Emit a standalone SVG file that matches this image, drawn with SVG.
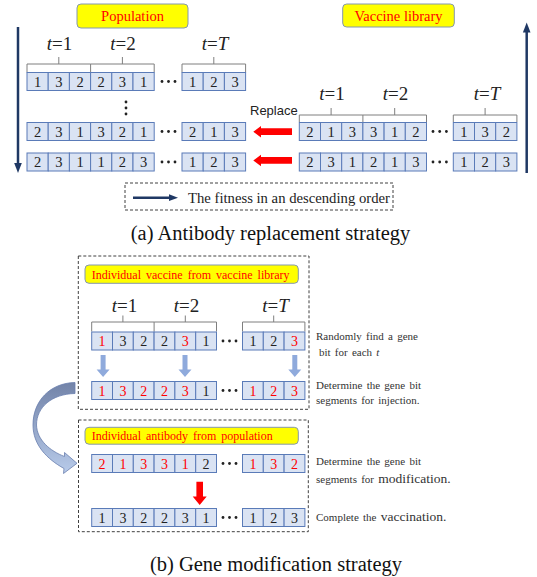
<svg xmlns="http://www.w3.org/2000/svg" xmlns:xlink="http://www.w3.org/1999/xlink" width="537" height="577" viewBox="0 0 537 577">
<style>
.c{fill:#dae3f3;stroke:#5a7bb8;stroke-width:1}
.d{font-family:"Liberation Serif","Times New Roman",serif;font-size:14.5px;text-anchor:middle;fill:#222}
.db{font-family:"Liberation Serif","Times New Roman",serif;font-size:14px;text-anchor:middle;fill:#222}
.r{fill:#f00}
.dot{fill:#222}
.br{fill:none;stroke:#7f7f7f;stroke-width:1}
.tl{font-family:"Liberation Serif","Times New Roman",serif;font-size:19px;text-anchor:middle;fill:#222}
.yb{fill:#ffff00;stroke:#8497b0;stroke-width:1}
.yt{font-family:"Liberation Serif","Times New Roman",serif;fill:#f00}
.dash{fill:none;stroke:#404040;stroke-width:1;stroke-dasharray:3 2}
.nv{stroke:#1f3864;stroke-width:2.5;fill:none}
.nvf{fill:#1f3864}
.side{font-family:"Liberation Serif","Times New Roman",serif;font-size:11px;fill:#333;word-spacing:1.5px}
.cap{font-family:"Liberation Serif","Times New Roman",serif;font-size:20.5px;text-anchor:middle;fill:#111}
.ba{fill:#8faadc}
.ra{fill:#ff0000}
</style>
<defs>
<rect id="ca" class="c" width="21.2" height="18"/>
<rect id="cb" class="c" width="20.8" height="18"/>
<linearGradient id="cg" x1="0" y1="0" x2="0" y2="1">
<stop offset="0" stop-color="#7283a8"/>
<stop offset="1" stop-color="#b8cbea"/>
</linearGradient>
</defs>

<!-- Section (a) -->
<g id="population-label">
<rect class="yb" x="77" y="4" width="111" height="24" rx="4"/>
<text class="yt" x="132.5" y="21" font-size="14.5" text-anchor="middle">Population</text>
</g>
<g id="vaccine-library-label">
<rect class="yb" x="342.7" y="4" width="111.6" height="23" rx="4"/>
<text class="yt" x="398.5" y="20.5" font-size="14.5" text-anchor="middle">Vaccine library</text>
</g>

<g id="pop-brackets">
<path class="br" d="M27,72.5V64H90.6V72.5M90.6,64H154.2V72.5M182,72.5V64H245.6V72.5M58.8,64V57M122.4,64V57M213.8,64V57"/>
<text class="tl" x="59.5" y="50"><tspan font-style="italic">t</tspan>=1</text>
<text class="tl" x="123" y="50"><tspan font-style="italic">t</tspan>=2</text>
<text class="tl" x="215" y="50"><tspan font-style="italic">t</tspan>=<tspan font-style="italic">T</tspan></text>
</g>

<g id="pop-row-1">
<use href="#ca" x="27" y="72.5"/><use href="#ca" x="48.2" y="72.5"/><use href="#ca" x="69.4" y="72.5"/><use href="#ca" x="90.6" y="72.5"/><use href="#ca" x="111.8" y="72.5"/><use href="#ca" x="133" y="72.5"/>
<use href="#ca" x="182" y="72.5"/><use href="#ca" x="203.2" y="72.5"/><use href="#ca" x="224.4" y="72.5"/>
<text class="d" y="86.5"><tspan x="37.6">1</tspan><tspan x="58.8">3</tspan><tspan x="80">2</tspan><tspan x="101.2">2</tspan><tspan x="122.4">3</tspan><tspan x="143.6">1</tspan><tspan x="192.6">1</tspan><tspan x="213.8">2</tspan><tspan x="235">3</tspan></text>
<circle class="dot" cx="162" cy="81.5" r="1.4"/><circle class="dot" cx="168.5" cy="81.5" r="1.4"/><circle class="dot" cx="175" cy="81.5" r="1.4"/>
</g>
<g id="pop-vdots">
<circle class="dot" cx="126" cy="102" r="1.4"/><circle class="dot" cx="126" cy="108" r="1.4"/><circle class="dot" cx="126" cy="114" r="1.4"/>
</g>
<g id="pop-row-2">
<use href="#ca" x="27" y="122.5"/><use href="#ca" x="48.2" y="122.5"/><use href="#ca" x="69.4" y="122.5"/><use href="#ca" x="90.6" y="122.5"/><use href="#ca" x="111.8" y="122.5"/><use href="#ca" x="133" y="122.5"/>
<use href="#ca" x="182" y="122.5"/><use href="#ca" x="203.2" y="122.5"/><use href="#ca" x="224.4" y="122.5"/>
<text class="d" y="136.5"><tspan x="37.6">2</tspan><tspan x="58.8">3</tspan><tspan x="80">1</tspan><tspan x="101.2">3</tspan><tspan x="122.4">2</tspan><tspan x="143.6">1</tspan><tspan x="192.6">2</tspan><tspan x="213.8">1</tspan><tspan x="235">3</tspan></text>
<circle class="dot" cx="162" cy="131.5" r="1.4"/><circle class="dot" cx="168.5" cy="131.5" r="1.4"/><circle class="dot" cx="175" cy="131.5" r="1.4"/>
</g>
<g id="pop-row-3">
<use href="#ca" x="27" y="153"/><use href="#ca" x="48.2" y="153"/><use href="#ca" x="69.4" y="153"/><use href="#ca" x="90.6" y="153"/><use href="#ca" x="111.8" y="153"/><use href="#ca" x="133" y="153"/>
<use href="#ca" x="182" y="153"/><use href="#ca" x="203.2" y="153"/><use href="#ca" x="224.4" y="153"/>
<text class="d" y="167"><tspan x="37.6">2</tspan><tspan x="58.8">3</tspan><tspan x="80">1</tspan><tspan x="101.2">1</tspan><tspan x="122.4">2</tspan><tspan x="143.6">3</tspan><tspan x="192.6">1</tspan><tspan x="213.8">2</tspan><tspan x="235">3</tspan></text>
<circle class="dot" cx="162" cy="162" r="1.4"/><circle class="dot" cx="168.5" cy="162" r="1.4"/><circle class="dot" cx="175" cy="162" r="1.4"/>
</g>

<g id="vac-brackets">
<path class="br" d="M299.3,122V115H362.9V122M362.9,115H426.5V122M453.3,122V115H516.9V122M331.1,115V108M394.7,115V108M485.1,115V108"/>
<text class="tl" x="332" y="100"><tspan font-style="italic">t</tspan>=1</text>
<text class="tl" x="395.5" y="100"><tspan font-style="italic">t</tspan>=2</text>
<text class="tl" x="487" y="100"><tspan font-style="italic">t</tspan>=<tspan font-style="italic">T</tspan></text>
</g>
<g id="vac-row-1">
<use href="#ca" x="299.3" y="122.5"/><use href="#ca" x="320.5" y="122.5"/><use href="#ca" x="341.7" y="122.5"/><use href="#ca" x="362.9" y="122.5"/><use href="#ca" x="384.1" y="122.5"/><use href="#ca" x="405.3" y="122.5"/>
<use href="#ca" x="453.3" y="122.5"/><use href="#ca" x="474.5" y="122.5"/><use href="#ca" x="495.7" y="122.5"/>
<text class="d" y="136.5"><tspan x="309.9">2</tspan><tspan x="331.1">1</tspan><tspan x="352.3">3</tspan><tspan x="373.5">3</tspan><tspan x="394.7">1</tspan><tspan x="415.9">2</tspan><tspan x="463.9">1</tspan><tspan x="485.1">3</tspan><tspan x="506.3">2</tspan></text>
<circle class="dot" cx="433" cy="131.5" r="1.4"/><circle class="dot" cx="439.7" cy="131.5" r="1.4"/><circle class="dot" cx="446.4" cy="131.5" r="1.4"/>
</g>
<g id="vac-row-2">
<use href="#ca" x="299.3" y="153"/><use href="#ca" x="320.5" y="153"/><use href="#ca" x="341.7" y="153"/><use href="#ca" x="362.9" y="153"/><use href="#ca" x="384.1" y="153"/><use href="#ca" x="405.3" y="153"/>
<use href="#ca" x="453.3" y="153"/><use href="#ca" x="474.5" y="153"/><use href="#ca" x="495.7" y="153"/>
<text class="d" y="167"><tspan x="309.9">2</tspan><tspan x="331.1">3</tspan><tspan x="352.3">1</tspan><tspan x="373.5">2</tspan><tspan x="394.7">1</tspan><tspan x="415.9">3</tspan><tspan x="463.9">1</tspan><tspan x="485.1">2</tspan><tspan x="506.3">3</tspan></text>
<circle class="dot" cx="433" cy="162" r="1.4"/><circle class="dot" cx="439.7" cy="162" r="1.4"/><circle class="dot" cx="446.4" cy="162" r="1.4"/>
</g>

<g id="replace-label">
<text x="250" y="115" font-family="Liberation Sans, Arial, sans-serif" font-size="13" fill="#222">Replace</text>
</g>

<g id="legend">
<rect class="dash" x="125" y="183" width="268" height="27"/>
<line class="nv" x1="133" y1="197.7" x2="170" y2="197.7" stroke-width="2"/>
<polygon class="nvf" points="178,197.7 169,194.3 169,201.1"/>
<text x="188" y="203" font-family="Liberation Serif, Times New Roman, serif" font-size="14.7" fill="#222">The fitness in an descending order</text>
</g>

<g id="caption-a">
<text class="cap" x="270.5" y="240">(a) Antibody replacement strategy</text>
</g>

<!-- Section (b) -->
<g id="vaccine-individual-box">
<rect class="dash" x="78.3" y="256" width="230.7" height="153.3"/>
<rect class="yb" x="85" y="265" width="213.3" height="18.3" rx="4"/>
<text class="yt" x="91.7" y="278.5" font-size="12" word-spacing="2">Individual vaccine from vaccine library</text>
</g>
<g id="vb-brackets">
<path class="br" d="M91.7,331.5V322H154.1V331.5M154.1,322H216.5V331.5M242.5,331.5V322H304.9V331.5M122.9,322V315.5M185.3,322V315.5M273.7,322V315.5"/>
<text class="tl" x="124.5" y="311.7"><tspan font-style="italic">t</tspan>=1</text>
<text class="tl" x="186.5" y="311.7"><tspan font-style="italic">t</tspan>=2</text>
<text class="tl" x="275.5" y="311.7"><tspan font-style="italic">t</tspan>=<tspan font-style="italic">T</tspan></text>
</g>
<g id="vb-row-1">
<use href="#cb" x="91.7" y="332"/><use href="#cb" x="112.5" y="332"/><use href="#cb" x="133.3" y="332"/><use href="#cb" x="154.1" y="332"/><use href="#cb" x="174.9" y="332"/><use href="#cb" x="195.7" y="332"/>
<use href="#cb" x="242.5" y="332"/><use href="#cb" x="263.3" y="332"/><use href="#cb" x="284.1" y="332"/>
<text class="db" y="346"><tspan x="102.1" class="r">1</tspan><tspan x="122.9">3</tspan><tspan x="143.7">2</tspan><tspan x="164.5">2</tspan><tspan x="185.3" class="r">3</tspan><tspan x="206.1">1</tspan><tspan x="252.9">1</tspan><tspan x="273.7">2</tspan><tspan x="294.5" class="r">3</tspan></text>
<circle class="dot" cx="223" cy="341" r="1.4"/><circle class="dot" cx="229.5" cy="341" r="1.4"/><circle class="dot" cx="236" cy="341" r="1.4"/>
</g>
<g id="vb-row-2">
<use href="#cb" x="91.7" y="381.5"/><use href="#cb" x="112.5" y="381.5"/><use href="#cb" x="133.3" y="381.5"/><use href="#cb" x="154.1" y="381.5"/><use href="#cb" x="174.9" y="381.5"/><use href="#cb" x="195.7" y="381.5"/>
<use href="#cb" x="242.5" y="381.5"/><use href="#cb" x="263.3" y="381.5"/><use href="#cb" x="284.1" y="381.5"/>
<text class="db" y="395.5"><tspan x="102.1" class="r">1</tspan><tspan x="122.9" class="r">3</tspan><tspan x="143.7" class="r">2</tspan><tspan x="164.5" class="r">2</tspan><tspan x="185.3" class="r">3</tspan><tspan x="206.1">1</tspan><tspan x="252.9" class="r">1</tspan><tspan x="273.7" class="r">2</tspan><tspan x="294.5" class="r">3</tspan></text>
<circle class="dot" cx="223" cy="390.5" r="1.4"/><circle class="dot" cx="229.5" cy="390.5" r="1.4"/><circle class="dot" cx="236" cy="390.5" r="1.4"/>
</g>

<g id="antibody-individual-box">
<rect class="dash" x="78.5" y="420" width="229.8" height="111.7"/>
<rect class="yb" x="85" y="427.3" width="213.3" height="16.9" rx="4"/>
<text class="yt" x="91.7" y="440" font-size="12" word-spacing="2">Individual antibody from population</text>
</g>
<g id="ab-row-1">
<use href="#cb" x="91.7" y="454.5"/><use href="#cb" x="112.5" y="454.5"/><use href="#cb" x="133.3" y="454.5"/><use href="#cb" x="154.1" y="454.5"/><use href="#cb" x="174.9" y="454.5"/><use href="#cb" x="195.7" y="454.5"/>
<use href="#cb" x="242.5" y="454.5"/><use href="#cb" x="263.3" y="454.5"/><use href="#cb" x="284.1" y="454.5"/>
<text class="db" y="468.5"><tspan x="102.1" class="r">2</tspan><tspan x="122.9" class="r">1</tspan><tspan x="143.7" class="r">3</tspan><tspan x="164.5" class="r">3</tspan><tspan x="185.3" class="r">1</tspan><tspan x="206.1">2</tspan><tspan x="252.9" class="r">1</tspan><tspan x="273.7" class="r">3</tspan><tspan x="294.5" class="r">2</tspan></text>
<circle class="dot" cx="223" cy="463.5" r="1.4"/><circle class="dot" cx="229.5" cy="463.5" r="1.4"/><circle class="dot" cx="236" cy="463.5" r="1.4"/>
</g>
<g id="ab-row-2">
<use href="#cb" x="91.7" y="508.5"/><use href="#cb" x="112.5" y="508.5"/><use href="#cb" x="133.3" y="508.5"/><use href="#cb" x="154.1" y="508.5"/><use href="#cb" x="174.9" y="508.5"/><use href="#cb" x="195.7" y="508.5"/>
<use href="#cb" x="242.5" y="508.5"/><use href="#cb" x="263.3" y="508.5"/><use href="#cb" x="284.1" y="508.5"/>
<text class="db" y="522.5"><tspan x="102.1">1</tspan><tspan x="122.9">3</tspan><tspan x="143.7">2</tspan><tspan x="164.5">2</tspan><tspan x="185.3">3</tspan><tspan x="206.1">1</tspan><tspan x="252.9">1</tspan><tspan x="273.7">2</tspan><tspan x="294.5">3</tspan></text>
<circle class="dot" cx="223" cy="517.5" r="1.4"/><circle class="dot" cx="229.5" cy="517.5" r="1.4"/><circle class="dot" cx="236" cy="517.5" r="1.4"/>
</g>

<g id="side-notes">
<text class="side" x="316" y="340">Randomly find a gene</text>
<text class="side" x="316" y="356"> <tspan x="319">bit for each <tspan font-style="italic">t</tspan></tspan></text>
<text class="side" x="316" y="389">Determine the gene bit</text>
<text class="side" x="316" y="404">segments for injection.</text>
<text class="side" x="316" y="465">Determine the gene bit</text>
<text class="side" x="316" y="482.5">segments for <tspan font-size="13.5" word-spacing="0">modification.</tspan></text>
<text class="side" x="316" y="520.5">Complete the <tspan font-size="13.5" word-spacing="0">vaccination.</tspan></text>
</g>

<g id="caption-b">
<text class="cap" x="276" y="571">(b) Gene modification strategy</text>
</g>

<g id="connectors">
<line class="nv" x1="18" y1="27" x2="18" y2="165"/>
<polygon class="nvf" points="18,173 14.2,163 21.8,163"/>
<line class="nv" x1="526.7" y1="173" x2="526.7" y2="31"/>
<polygon class="nvf" points="526.7,22.5 522.9,32.5 530.5,32.5"/>
<path class="ra" d="M253.3,131.7L261,126V128.3H292V135H261V137.5Z"/>
<path class="ra" d="M253.3,160.5L261,154.8V157.1H292V163.8H261V166.3Z"/>
<path class="ba" d="M100.6,355H105.6V369.5H109.6L103.1,377L96.6,369.5H100.6Z"/>
<path class="ba" d="M182.5,355H187.5V369.5H191.5L185,377L178.5,369.5H182.5Z"/>
<path class="ba" d="M292.3,355H297.3V369.5H301.3L294.8,377L288.3,369.5H292.3Z"/>
<path class="ra" d="M196.4,481.7H203V496.5H206.7L199.7,505L192.7,496.5H196.4Z"/>
<path fill="url(#cg)" stroke="#6a7fae" stroke-width="0.8" d="M75,382.5C50,383 33,401 33,425C33,445 47,459 64,468.5L63.5,473.5L77,463.3L64.5,452.5L64.5,456.5C50,451 37,440 36.5,425C36.5,407 52,394 75,393.5Z"/>
</g>
</svg>
